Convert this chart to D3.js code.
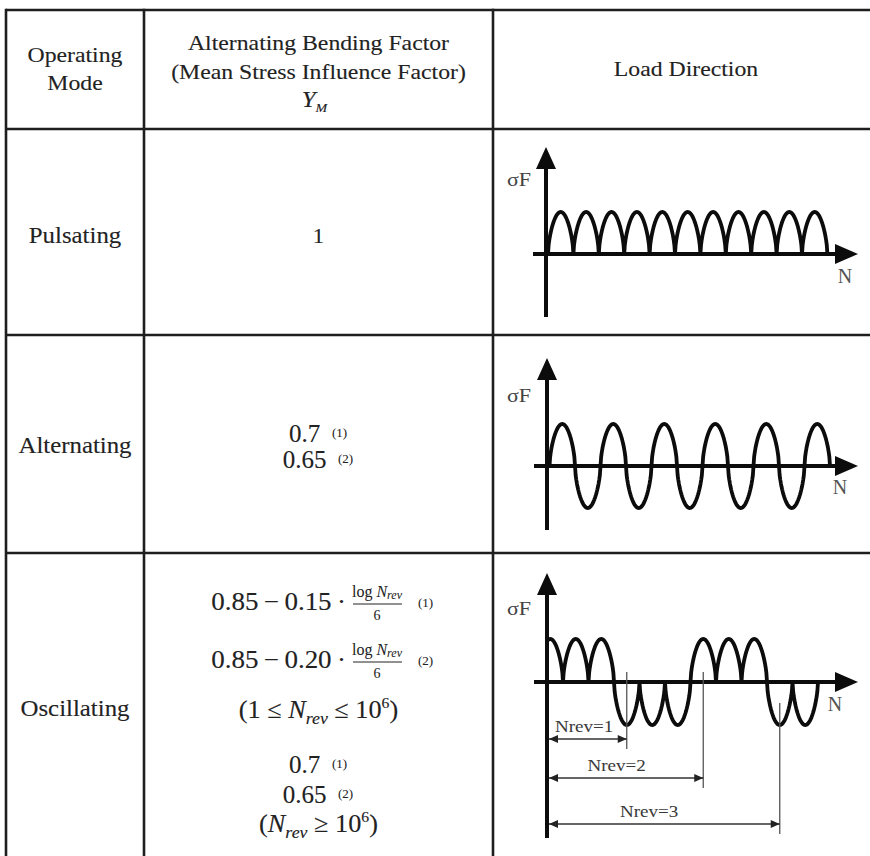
<!DOCTYPE html>
<html><head><meta charset="utf-8">
<script src="https://cdn.jsdelivr.net/npm/d3@7"></script>
<style>body{margin:0;background:#fff}svg{display:block}</style>
</head><body><svg id="c" width="870" height="856"></svg>
<script>
// ---------- data ----------
const headerMode = ["Operating", "Mode"];
const headerFactor = ["Alternating Bending Factor", "(Mean Stress Influence Factor)"];
const headerLoad = ["Load Direction"];
const modes = ["Pulsating", "Alternating", "Oscillating"];
const ymPulsating = ["1"];
const ymAlternating = ["0.7", "0.65"];
const ymNotes = ["(1)", "(2)"];
const ymOscCoeffs = ["0.15", "0.20"];
const ymOscBase = "0.85";
const ymOscLimit = ["0.7", "0.65"];
// sign of each successive half-wave in the load diagrams
const pulsatingSigns = [1, 1, 1, 1, 1, 1, 1, 1, 1, 1, 1];
const alternatingSigns = [1, -1, 1, -1, 1, -1, 1, -1, 1, -1, 1];
const oscillatingSigns = [1, 1, 1, -1, -1, -1, 1, 1, 1, -1, -1];
const nrevLabels = ["Nrev=1", "Nrev=2", "Nrev=3"];
const nrevEndHalfWave = [3, 6, 9];

// ---------- setup ----------
const FONT = "'Liberation Serif','Times New Roman',serif";
const svg = d3.select("#c");
const INK = "#222";

function label(x, y, size, anchor, sx, parts, color, weight) {
  const g = svg.append("g").attr("transform", `translate(${x},${y}) scale(${sx},1)`);
  const t = g.append("text").attr("font-family", FONT).attr("font-size", size)
    .attr("text-anchor", anchor).attr("fill", color || INK)
    .attr("stroke", color || INK).attr("stroke-width", weight === undefined ? 0.12 : weight);
  (typeof parts === "string" ? [{ t: parts }] : parts).forEach(p => {
    const ts = t.append("tspan").text(p.t);
    if (p.i) ts.attr("font-style", "italic");
    if (p.s) ts.attr("font-size", p.s);
    if (p.dy) ts.attr("dy", p.dy);
  });
  return t;
}

// ---------- table grid ----------
const colX = [6, 144, 493, 872];
const rowY = [10, 129, 335, 553, 860];
const grid = svg.append("g").attr("stroke", "#1e1e1e").attr("stroke-width", 2.6);
rowY.slice(0, 4).forEach(y => grid.append("line").attr("x1", colX[0]).attr("x2", colX[3]).attr("y1", y).attr("y2", y));
colX.slice(0, 3).forEach(x => grid.append("line").attr("x1", x).attr("x2", x).attr("y1", rowY[0] - 1.3).attr("y2", rowY[4]));

const cMode = (colX[0] + colX[1]) / 2, cFac = (colX[1] + colX[2]) / 2, cLoad = 686;
const SX = 1.08;

// header
headerMode.forEach((s, i) => label(cMode, 62 + i * 28, 22, "middle", SX, s));
headerFactor.forEach((s, i) => label(cFac, 50 + i * 29, 22, "middle", SX, s));
label(cFac - 4, 107, 23, "middle", SX, [{ t: "Y", i: 1 }, { t: "M", i: 1, s: 13, dy: 5 }]);
headerLoad.forEach(s => label(cLoad, 76, 22, "middle", SX, s));

// row labels
const rowBase = [243, 453, 716];
modes.forEach((m, i) => label(cMode, rowBase[i], 23, "middle", SX, m));

// factor column
label(cFac, 243, 21, "middle", SX, ymPulsating[0]);
const NUM = 25;
[442, 468].forEach((y, i) => {
  label(cFac - 14, y, NUM, "middle", 1.0, ymAlternating[i]);
  label(332 + i * 6, y - 5, 13, "start", 1.0, ymNotes[i], INK, 0.05);
});
// oscillating formulas
[610, 668].forEach((y, i) => {
  label(346, y, NUM, "end", 1.08, `${ymOscBase}\u2009\u2212\u20090.${ymOscCoeffs[i].split(".")[1]}\u2009\u00b7`);
  label(377, y - 13, 16, "middle", 1.0, [{ t: "log\u00a0" }, { t: "N", i: 1 }, { t: "rev", i: 1, s: 12, dy: 2 }], INK, 0.05);
  svg.append("line").attr("x1", 353).attr("x2", 402).attr("y1", y - 6).attr("y2", y - 6).attr("stroke", INK).attr("stroke-width", 1);
  label(377, y + 10, 14, "middle", 1.0, "6", INK, 0.05);
  label(418, y - 3, 13, "start", 1.0, ymNotes[i], INK, 0.05);
});
label(cFac, 718, NUM, "middle", 1.05, [{ t: "(1 \u2264 " }, { t: "N", i: 1 }, { t: "rev", i: 1, s: 17, dy: 6 }, { t: " \u2264 10", dy: -6 }, { t: "6", s: 15, dy: -10 }, { t: ")", dy: 10 }]);
[773, 803].forEach((y, i) => {
  label(cFac - 14, y, NUM, "middle", 1.0, ymOscLimit[i]);
  label(332 + i * 6, y - 5, 13, "start", 1.0, ymNotes[i], INK, 0.05);
});
label(cFac, 832, NUM, "middle", 1.05, [{ t: "(" }, { t: "N", i: 1 }, { t: "rev", i: 1, s: 17, dy: 6 }, { t: " \u2265 10", dy: -6 }, { t: "6", s: 15, dy: -10 }, { t: ")", dy: 10 }]);

// ---------- load diagrams ----------
function diagram(cfg) {
  const g = svg.append("g");
  const x = d3.scaleLinear().domain([0, cfg.signs.length]).range([cfg.x0, cfg.x0 + cfg.signs.length * cfg.step]);
  const y = d3.scaleLinear().domain([-1, 1]).range([cfg.axisY + cfg.amp, cfg.axisY - cfg.amp]);
  const pts = [];
  cfg.signs.forEach((s, i) => {
    for (let k = 0; k <= 40; k++) {
      const f = k / 40;
      pts.push([i + f, s * Math.pow(Math.sin(Math.PI * f), 0.6)]);
    }
  });
  const clipId = "clip" + cfg.axisY;
  svg.append("clipPath").attr("id", clipId).append("rect")
    .attr("x", cfg.axisX).attr("y", cfg.top).attr("width", 400).attr("height", cfg.bottom - cfg.top);
  g.append("path").datum(pts)
    .attr("d", d3.line().x(d => x(d[0])).y(d => y(d[1])))
    .attr("fill", "none").attr("stroke", "#0c0c0c").attr("stroke-width", 3.8)
    .attr("stroke-linejoin", "round").attr("clip-path", `url(#${clipId})`);
  // axes
  g.append("line").attr("x1", cfg.axisX).attr("x2", cfg.axisX).attr("y1", cfg.bottom).attr("y2", cfg.top + 18)
    .attr("stroke", "#0c0c0c").attr("stroke-width", 4);
  g.append("path").attr("d", `M${cfg.axisX},${cfg.top} L${cfg.axisX - 10},${cfg.top + 22} L${cfg.axisX + 10},${cfg.top + 22} Z`).attr("fill", "#0c0c0c");
  g.append("line").attr("x1", cfg.axisX - 13).attr("x2", 838).attr("y1", cfg.axisY).attr("y2", cfg.axisY)
    .attr("stroke", "#0c0c0c").attr("stroke-width", 4);
  g.append("path").attr("d", `M858,${cfg.axisY} L835,${cfg.axisY - 10} L835,${cfg.axisY + 10} Z`).attr("fill", "#0c0c0c");
  label(507, cfg.sigY, 18, "start", 1.22, "\u03c3F", "#444", 0.05);
  label(cfg.nX, cfg.nY, 20, "middle", 1.0, "N", "#555", 0);
  return x;
}

diagram({ signs: pulsatingSigns, x0: 548, step: 25.4, axisX: 546, axisY: 254, amp: 42, top: 147, bottom: 317, sigY: 186, nX: 845, nY: 283 });
diagram({ signs: alternatingSigns, x0: 549.5, step: 25.5, axisX: 547, axisY: 466, amp: 42, top: 358, bottom: 530, sigY: 402, nX: 840, nY: 494 });
const xo = diagram({ signs: oscillatingSigns, x0: 537.5, step: 25.5, axisX: 547, axisY: 682, amp: 43, top: 573, bottom: 838, sigY: 615, nX: 835, nY: 711 });

// dimension lines for Nrev
const dimY = [739, 778, 824];
const extTop = [672, 672, 703];
const dimG = svg.append("g");
nrevEndHalfWave.forEach((h, i) => {
  const xe = xo(h + 0.5);
  const xs = 549;
  dimG.append("line").attr("x1", xe).attr("x2", xe).attr("y1", extTop[i]).attr("y2", dimY[i] + 10)
    .attr("stroke", "#555").attr("stroke-width", 1.3);
  dimG.append("line").attr("x1", xs).attr("x2", xe).attr("y1", dimY[i]).attr("y2", dimY[i])
    .attr("stroke", "#333").attr("stroke-width", 1.4);
  dimG.append("path").attr("d", `M${xs},${dimY[i]} L${xs + 9},${dimY[i] - 4} L${xs + 9},${dimY[i] + 4} Z`).attr("fill", "#222");
  dimG.append("path").attr("d", `M${xe},${dimY[i]} L${xe - 9},${dimY[i] - 4} L${xe - 9},${dimY[i] + 4} Z`).attr("fill", "#222");
  label(555 + i * 32.5, dimY[i] - 7, 17, "start", 1.12, nrevLabels[i], "#3a3a3a", 0.05);
});
</script></body></html>
